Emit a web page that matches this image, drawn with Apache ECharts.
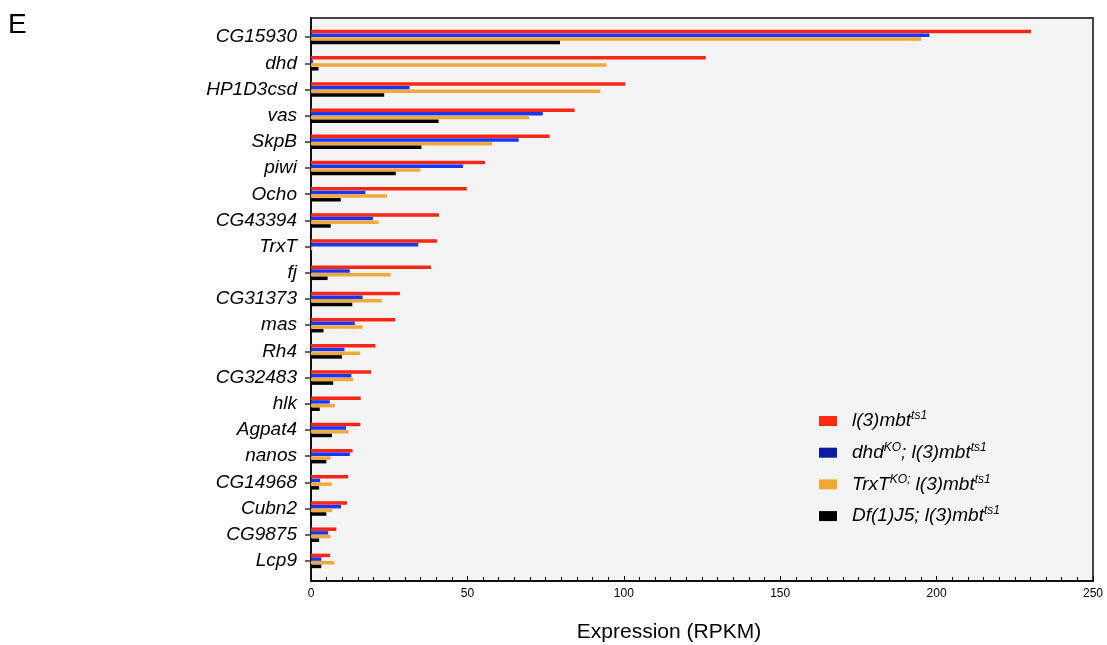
<!DOCTYPE html>
<html>
<head>
<meta charset="utf-8">
<script src="https://cdn.jsdelivr.net/npm/echarts@6/dist/echarts.min.js"></script>
<style>html,body{margin:0;padding:0;background:#fff;}#c{width:1107px;height:645px;}</style>
</head>
<body>
<div id="c"></div>
<script>
const genes = ['CG15930','dhd','HP1D3csd','vas','SkpB','piwi','Ocho','CG43394','TrxT','fj','CG31373','mas','Rh4','CG32483','hlk','Agpat4','nanos','CG14968','Cubn2','CG9875','Lcp9'];
const seriesNames = ['l(3)mbt ts1','dhd KO; l(3)mbt ts1','TrxT KO; l(3)mbt ts1','Df(1)J5; l(3)mbt ts1'];
const l3mbt = [230.2,126.2,100.5,84.3,76.3,55.6,49.8,40.9,40.3,38.4,28.4,26.9,20.6,19.2,15.9,15.8,13.3,11.9,11.5,8.1,6.1];
const dhdKO = [197.7,0.6,31.5,74.1,66.4,48.6,17.4,19.8,34.3,12.4,16.5,14.0,10.7,12.9,6.0,11.2,12.4,2.9,9.6,5.5,3.3];
const trxtKO = [195.1,94.5,92.5,69.7,57.9,35.0,24.3,21.6,0.4,25.5,22.6,16.5,15.7,13.5,7.7,12.0,6.3,6.6,6.7,6.3,7.5];
const df1J5 = [79.6,2.4,23.4,40.8,35.3,27.1,9.5,6.3,0,5.3,13.2,4.0,9.9,7.1,2.8,6.7,4.9,2.6,4.9,2.6,3.3];
const xTicks = [0,50,100,150,200,250];

const barColors = ['#ff2616','#1637ff','#f2a93b','#000000'];
const legendColors = ['#ff2a14','#0c1c9c','#f0a830','#000000'];
const legendRich = {
  'l(3)mbt ts1': '{a|l(3)mbt}{s|ts1}',
  'dhd KO; l(3)mbt ts1': '{a|dhd}{s|KO}{a|; l(3)mbt}{s|ts1}',
  'TrxT KO; l(3)mbt ts1': '{a|TrxT}{s|KO;}{a| l(3)mbt}{s|ts1}',
  'Df(1)J5; l(3)mbt ts1': '{a|Df(1)J5; l(3)mbt}{s|ts1}'
};
const dataSets = [l3mbt, dhdKO, trxtKO, df1J5];
const FONT = 'Liberation Sans';

const chart = echarts.init(document.getElementById('c'), null, {renderer:'canvas'});
chart.setOption({
  animation: false,
  backgroundColor: '#ffffff',
  title: {text: 'E', left: 3, top: 6, textStyle: {fontFamily: FONT, fontSize: 28, fontWeight: 'normal', color: '#000'}},
  legend: {
    orient: 'vertical', left: 814, top: 405, itemWidth: 18, itemHeight: 10, itemGap: 9.7,
    icon: 'rect',
    data: seriesNames.map((n,i)=>({name:n, itemStyle:{color: legendColors[i]}})),
    formatter: n => legendRich[n],
    textStyle: {
      fontFamily: FONT, fontSize: 19, fontStyle: 'italic', color: '#000', padding: [0,0,0,10],
      rich: {
        a: {fontFamily: FONT, fontSize: 19, fontStyle: 'italic', color: '#000', lineHeight: 20},
        s: {fontFamily: FONT, fontSize: 12, fontStyle: 'italic', color: '#000', lineHeight: 20, padding: [0,0,10,0]}
      }
    }
  },
  grid: [
    {left: 311, right: 14, top: 18, bottom: 64, show: true, backgroundColor: '#f4f4f4', borderColor: '#444', borderWidth: 2, outerBoundsMode: 'none', containLabel: false},
    {left: 311, right: 14, top: 24, bottom: 71, outerBoundsMode: 'none', containLabel: false}
  ],
  xAxis: [
    {gridIndex: 0, type: 'value', min: 0, max: 250, interval: 50,
      axisLine: {show: true, lineStyle: {color: '#000', width: 1.5}},
      axisTick: {show: true, inside: true, length: 5, lineStyle: {color: '#000'}},
      minorTick: {show: true, splitNumber: 10, length: 4, lineStyle: {color: '#000'}},
      splitLine: {show: false},
      axisLabel: {fontFamily: FONT, fontSize: 12, color: '#000', margin: 7, formatter: v => xTicks.indexOf(v) >= 0 ? String(v) : ''},
      name: 'Expression (RPKM)', nameLocation: 'middle', nameGap: 41,
      nameTextStyle: {fontFamily: FONT, fontSize: 21, color: '#000', padding: [0, 66, 0, 0]}
    },
    {gridIndex: 1, type: 'value', min: 0, max: 250, show: false}
  ],
  yAxis: [
    {gridIndex: 0, type: 'value', min: 0, max: 1, axisLine: {show: true, lineStyle: {color: '#000', width: 1.5}},
      axisTick: {show: false}, axisLabel: {show: false}, splitLine: {show: false}},
    {gridIndex: 1, type: 'category', data: genes, inverse: true,
      axisLine: {show: false},
      axisTick: {show: true, alignWithLabel: true, length: 6, lineStyle: {color: '#333', width: 1.5}},
      axisLabel: {fontFamily: FONT, fontSize: 19, fontStyle: 'italic', color: '#000', margin: 14},
      splitLine: {show: false}
    }
  ],
  series: dataSets.map((d,i)=>({
    name: seriesNames[i], type: 'bar', xAxisIndex: 1, yAxisIndex: 1,
    data: d, barWidth: 3.5, barGap: '5%',
    itemStyle: {color: barColors[i]},
    emphasis: {disabled: true}
  }))
});
</script>
</body>
</html>
